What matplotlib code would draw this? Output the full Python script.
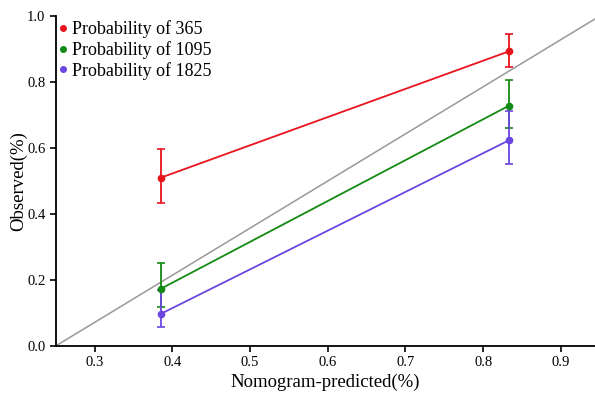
import matplotlib
matplotlib.use("Agg")
from matplotlib import pyplot as plt

predicted = [0.385, 0.833]

obs_365 = [0.510, 0.893]
lo_365 = [0.433, 0.846]
hi_365 = [0.597, 0.947]

obs_1095 = [0.173, 0.728]
lo_1095 = [0.119, 0.660]
hi_1095 = [0.252, 0.807]

obs_1825 = [0.097, 0.623]
lo_1825 = [0.057, 0.551]
hi_1825 = [0.170, 0.712]

labels = ["Probability of 365", "Probability of 1095", "Probability of 1825"]
colors = ["#e8131b", "#138a13", "#6a45e0"]

plt.rcParams["font.family"] = ["Liberation Serif", "DejaVu Serif"]

fig = plt.figure(figsize=(5.95, 3.93), dpi=100)
ax = fig.add_axes([0.094, 0.12, 0.906, 0.839])

# reference diagonal corner to corner
ax.plot([0.25, 0.95], [0.0, 1.0], color="#999999", lw=1.1, zorder=1)

series = [(obs_365, lo_365, hi_365), (obs_1095, lo_1095, hi_1095), (obs_1825, lo_1825, hi_1825)]
for (obs, lo, hi), lab, c in zip(series, labels, colors):
    yerr = [[o - l for o, l in zip(obs, lo)], [h - o for o, h in zip(obs, hi)]]
    ax.errorbar(predicted, obs, yerr=yerr, color=c, lw=1.3, elinewidth=1.3,
                capsize=3, capthick=1.2, marker="o", markersize=4.5, label=lab)

ax.set_xlim(0.25, 0.944)
ax.set_ylim(0, 1.0)
ax.set_xticks([0.3, 0.4, 0.5, 0.6, 0.7, 0.8, 0.9])
ax.set_yticks([0.0, 0.2, 0.4, 0.6, 0.8, 1.0])
ax.set_xticklabels(["0.3", "0.4", "0.5", "0.6", "0.7", "0.8", "0.9"])
ax.set_yticklabels(["0.0", "0.2", "0.4", "0.6", "0.8", "1.0"])
ax.tick_params(labelsize=10.5, direction="out", length=4, width=1.2)
ax.spines["top"].set_visible(False)
ax.spines["right"].set_visible(False)
ax.spines["left"].set_linewidth(1.3)
ax.spines["bottom"].set_linewidth(1.3)
ax.set_xlabel("Nomogram-predicted(%)", fontsize=13.5, labelpad=3)
ax.set_ylabel("Observed(%)", fontsize=13.5, labelpad=0)

handles = [plt.Line2D([], [], ls="none", marker="o", markersize=4, color=c) for c in colors]
ax.legend(handles, labels, loc="upper left", frameon=False, fontsize=13,
          handlelength=0.6, handletextpad=0.17, labelspacing=0.15,
          borderaxespad=0.1, bbox_to_anchor=(-0.013, 1.014))

fig.savefig("out.png", dpi=100)
